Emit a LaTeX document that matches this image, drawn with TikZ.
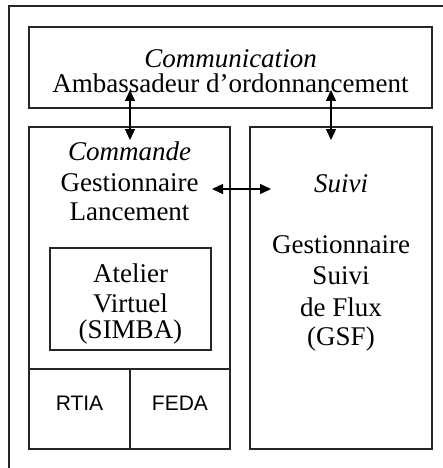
\documentclass[tikz,border=0pt]{standalone}
\usepackage{fontspec}
\setmainfont{Liberation Serif}
\newfontfamily\arialfont{Liberation Sans}
\usetikzlibrary{arrows.meta}
\tikzset{
  box/.style={draw=black!85, line width=1.4pt, anchor=north west, inner sep=0pt, outer sep=0pt},
  txt/.style={anchor=base, inner sep=0pt, font=\fontsize{27}{30}\selectfont},
  sanstxt/.style={anchor=base, inner sep=0pt, font=\arialfont\fontsize{21}{25}\selectfont},
  link/.style={line width=1.3pt, {Triangle[length=11pt,width=10pt]}-{Triangle[length=11pt,width=10pt]}}
}
\begin{document}
\begin{tikzpicture}[x=1pt,y=-1pt]
\clip (0,0) rectangle (443,468);
\fill[white] (0,0) rectangle (443,468);
% outer frame (cut by the picture's edge)
\draw[black!85, line width=1.2pt] (9,6) rectangle (470,490);
% boxes
\node[box, minimum width=403pt, minimum height=81pt] (comm) at (29,27) {};
\node[box, minimum width=201pt, minimum height=322pt] (cmd) at (29,127) {};
\node[box, minimum width=182pt, minimum height=322pt] (suivi) at (250,127) {};
\node[box, minimum width=161pt, minimum height=102pt] (atel) at (50,248) {};
\node[box, minimum width=101pt, minimum height=80pt] (rtia) at (29,369) {};
\node[box, minimum width=100pt, minimum height=80pt] (feda) at (130,369) {};
% texts
\node[txt] (t1) at (230.5,68) {\itshape Communication};
\node[txt] (t2) at (230.5,93) {Ambassadeur d'ordonnancement};
\node[txt] (t3) at (129.5,160) {\itshape Commande};
\node[txt] (t4) at (129.5,191) {Gestionnaire};
\node[txt] (t5) at (129.5,220) {Lancement};
\node[txt] (t6) at (341,192) {\itshape Suivi};
\node[txt] (t7) at (341,253) {Gestionnaire};
\node[txt] (t8) at (341,284) {Suivi};
\node[txt] (t9) at (341,316) {de Flux};
\node[txt] (t10) at (341,345) {(GSF)};
\node[txt] (t11) at (130.5,282) {Atelier};
\node[txt] (t12) at (130.5,312) {Virtuel};
\node[txt] (t13) at (130.5,338) {(SIMBA)};
\node[sanstxt] (t14) at (79.5,410) {RTIA};
\node[sanstxt] (t15) at (180,410) {FEDA};
% connector ends
\coordinate (a1) at (130,90);
\coordinate (a2) at (130,140);
\coordinate (b1) at (331,90);
\coordinate (b2) at (331,140);
\coordinate (h1) at (212,189);
\coordinate (h2) at (271,189);
\draw[link] (a1) -- (a2);
\draw[link] (b1) -- (b2);
\draw[link] (h1) -- (h2);
\end{tikzpicture}
\end{document}
